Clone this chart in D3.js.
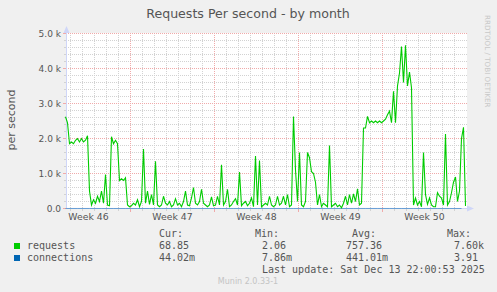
<!DOCTYPE html>
<html>
<head>
<meta charset="utf-8">
<script src="https://cdn.jsdelivr.net/npm/d3@7"></script>
<style>
  body { margin: 0; background: #f0f0f0; }
  svg { display: block; }
</style>
</head>
<body>
<div id="chart"></div>
<script>
// requests per second, one value every 4 hours from Nov 10 14:00 to Dec 13 22:00
var requests = [
  2620, 2450, 1850, 1900, 1850, 1950, 2000, 1900, 2000, 1900,
  1950, 2080, 500, 100, 250, 150, 350, 200, 500, 150,
  970, 100, 80, 2050, 1850, 1950, 1850, 800, 850, 800,
  880, 100, 50, 80, 150, 100, 250, 50, 200, 1700,
  150, 500, 120, 400, 100, 1350, 100, 50, 100, 350,
  150, 100, 200, 50, 100, 280, 100, 150, 50, 200,
  500, 100, 80, 300, 600, 150, 100, 200, 550, 150,
  100, 50, 100, 330, 80, 100, 350, 100, 1250, 100,
  200, 550, 50, 100, 200, 280, 100, 1040, 80, 150,
  200, 80, 150, 300, 50, 1500, 100, 1370, 50, 100,
  150, 100, 350, 100, 50, 100, 350, 100, 150, 350,
  100, 400, 50, 100, 2630, 1100, 200, 1600, 100, 50,
  200, 1600, 1450, 1050, 1000, 750, 100, 400, 50, 150,
  100, 50, 1800, 50, 100, 150, 50, 100, 20, 150,
  350, 100, 400, 150, 420, 200, 560, 100, 150, 2300,
  2300, 2630, 2450, 2500, 2450, 2500, 2450, 2500, 2450, 2500,
  2550, 2680, 2780, 2450, 3350, 2450, 3500, 3870, 4630, 3600,
  4660, 3500, 3900, 3450, 100, 300, 100, 200, 50, 1600,
  400, 120, 300, 100, 50, 50, 450, 350, 300, 100,
  2130, 100, 200, 450, 750, 900, 200, 500, 2000, 2320,
  70
];
// connections per second, one value per day (all close to zero)
var connections = [
  0.52, 0.61, 0.48, 0.35, 0.22, 0.40, 0.31, 0.28, 0.45, 0.19,
  0.33, 0.27, 0.41, 0.30, 0.25, 0.38, 0.29, 0.36, 0.24, 0.47,
  0.58, 0.66, 0.71, 0.62, 0.55, 0.93, 1.12, 0.84, 0.30, 0.21,
  0.35, 0.40, 0.26, 0.04
];
var yTicks = [0, 1000, 2000, 3000, 4000, 5000];
var yTickLabels = ["0.0", "1.0 k", "2.0 k", "3.0 k", "4.0 k", "5.0 k"];
var weekLabels = ["Week 46", "Week 47", "Week 48", "Week 49", "Week 50"];
var legendNames = ["requests", "connections"];
var legendColors = ["#00cc00", "#0066b3"];
var legendHeads = ["Cur:", "Min:", "Avg:", "Max:"];
var legendValues = [
  ["68.85", "2.06", "757.36", "7.60k"],
  ["44.02m", "7.86m", "441.01m", "3.91"]
];

var width = 497, height = 292;
var t0 = new Date(Date.UTC(2025, 10, 10, 14, 0));
var t1 = new Date(Date.UTC(2025, 11, 13, 22, 0));
var stepReq = 4 * 3600 * 1000;
var stepConn = 24 * 3600 * 1000;

var x = d3.scaleUtc().domain([t0, t1]).range([65.5, 465.5]);
var y = d3.scaleLinear().domain([0, 5000]).range([208.5, 33.5]);

var minorCol = "#d2d2d2";
var majorCol = "#f0aaaa";

var svg = d3.select("#chart").append("svg")
  .attr("width", width)
  .attr("height", height);

svg.append("rect").attr("width", width).attr("height", height).attr("fill", "#f0f0f0");
// canvas
svg.append("rect")
  .attr("x", 66).attr("y", 33)
  .attr("width", 401).attr("height", 176)
  .attr("fill", "#ffffff");

var grid = svg.append("g");
// horizontal minor lines every 200
grid.selectAll(".hmin")
  .data(d3.range(200, 5000, 200).filter(function (d) { return d % 1000 !== 0; }))
  .enter().append("line")
  .attr("x1", 66).attr("x2", 467)
  .attr("y1", y).attr("y2", y)
  .attr("stroke", minorCol).attr("stroke-dasharray", "1,1");
// vertical minor lines every day
var days = d3.utcDay.range(t0, t1);
grid.selectAll(".vmin")
  .data(days)
  .enter().append("line")
  .attr("x1", x).attr("x2", x)
  .attr("y1", 33).attr("y2", 208)
  .attr("stroke", minorCol).attr("stroke-dasharray", "1,1");
// horizontal major lines
grid.selectAll(".hmaj")
  .data(yTicks.slice(1))
  .enter().append("line")
  .attr("x1", 66).attr("x2", 467)
  .attr("y1", y).attr("y2", y)
  .attr("stroke", majorCol).attr("stroke-dasharray", "1,1");
// vertical major lines every week (Sunday)
var weeks = d3.utcSunday.range(t0, t1);
grid.selectAll(".vmaj")
  .data(weeks)
  .enter().append("line")
  .attr("x1", x).attr("x2", x)
  .attr("y1", 33).attr("y2", 208)
  .attr("stroke", majorCol).attr("stroke-dasharray", "1,1");

// tick marks
grid.selectAll(".ytk")
  .data(d3.range(0, 5001, 200))
  .enter().append("line")
  .attr("x1", function (d) { return d % 1000 === 0 ? 63 : 64; }).attr("x2", 66)
  .attr("y1", y).attr("y2", y)
  .attr("stroke", function (d) { return d % 1000 === 0 ? majorCol : minorCol; });
grid.selectAll(".xtk")
  .data(days)
  .enter().append("line")
  .attr("x1", x).attr("x2", x)
  .attr("y1", 209).attr("y2", function (d) { return d.getUTCDay() === 0 ? 212 : 211; })
  .attr("stroke", function (d) { return d.getUTCDay() === 0 ? majorCol : minorCol; });

// axes
svg.append("line")
  .attr("x1", 66.5).attr("x2", 66.5).attr("y1", 30).attr("y2", 209)
  .attr("stroke", "#cfd6f8");
svg.append("path")
  .attr("d", "M63.5,33 L69.5,33 L66.5,26 Z")
  .attr("fill", "#cfd6f8");
svg.append("line")
  .attr("x1", 66).attr("x2", 470).attr("y1", 208.5).attr("y2", 208.5)
  .attr("stroke", "#cfd6f8");
svg.append("path")
  .attr("d", "M467,205.5 L467,211.5 L474,208.5 Z")
  .attr("fill", "#cfd6f8");

// series
var lineReq = d3.line()
  .x(function (d, i) { return x(new Date(t0.getTime() + i * stepReq)); })
  .y(function (d) { return y(d); });
var lineConn = d3.line()
  .x(function (d, i) { return x(new Date(Math.min(t0.getTime() + i * stepConn, t1.getTime()))); })
  .y(function (d) { return y(d); });

svg.append("path")
  .datum(connections)
  .attr("d", lineConn)
  .attr("fill", "none")
  .attr("stroke", "#0066b3")
  .attr("stroke-opacity", 0.5)
  .attr("stroke-width", 1);
svg.append("path")
  .datum(requests)
  .attr("d", lineReq)
  .attr("fill", "none")
  .attr("stroke", "#00cc00")
  .attr("stroke-width", 1.1);

var font = "DejaVu Sans";
var txt = "#555555";

// y labels
svg.selectAll(".ylab")
  .data(yTicks)
  .enter().append("text")
  .attr("x", 61)
  .attr("y", function (d) { return y(d) + 3.5; })
  .attr("text-anchor", "end")
  .attr("font-family", font).attr("font-size", "9px")
  .attr("fill", txt)
  .text(function (d, i) { return yTickLabels[i]; });

// week labels centred in the middle of each week
svg.selectAll(".xlab")
  .data(weekLabels)
  .enter().append("text")
  .attr("x", function (d, i) {
    var mid = new Date(Date.UTC(2025, 10, 9) + (i * 7 + 3.5) * 86400000);
    return x(mid);
  })
  .attr("y", 219.5)
  .attr("text-anchor", "middle")
  .attr("font-family", font).attr("font-size", "9.3px")
  .attr("fill", txt)
  .text(function (d) { return d; });

// title
svg.append("text")
  .attr("x", 248).attr("y", 18)
  .attr("text-anchor", "middle")
  .attr("font-family", font).attr("font-size", "12.6px")
  .attr("fill", txt)
  .text("Requests Per second - by month");

// vertical axis title
svg.append("text")
  .attr("transform", "translate(14.5,120) rotate(-90)")
  .attr("text-anchor", "middle")
  .attr("font-family", font).attr("font-size", "11px")
  .attr("fill", txt)
  .text("per second");

// watermark
svg.append("text")
  .attr("transform", "translate(485,15) rotate(90)")
  .attr("font-family", font).attr("font-size", "7.2px")
  .attr("fill", "#c8c8c8")
  .text("RRDTOOL / TOBI OETIKER");

// legend
var mono = "DejaVu Sans Mono";
var headX = [159, 255, 352, 447];
var valX = [[159, 262, 346, 454], [159, 262, 346, 454]];
svg.selectAll(".lhead")
  .data(legendHeads)
  .enter().append("text")
  .attr("x", function (d, i) { return headX[i]; })
  .attr("y", 237)
  .attr("font-family", mono).attr("font-size", "10px")
  .attr("fill", txt)
  .text(function (d) { return d; });

var rows = svg.selectAll(".lrow")
  .data(legendNames)
  .enter().append("g")
  .attr("transform", function (d, i) { return "translate(0," + (249 + i * 12) + ")"; });
rows.append("rect")
  .attr("x", 14).attr("y", -6)
  .attr("width", 6).attr("height", 6)
  .attr("fill", function (d, i) { return legendColors[i]; });
rows.append("text")
  .attr("x", 27).attr("y", 0)
  .attr("font-family", mono).attr("font-size", "10px")
  .attr("fill", txt)
  .text(function (d) { return d; });
rows.each(function (d, r) {
  d3.select(this).selectAll(".v")
    .data(legendValues[r])
    .enter().append("text")
    .attr("x", function (v, j) { return valX[r][j]; })
    .attr("y", 0)
    .attr("font-family", mono).attr("font-size", "10px")
    .attr("fill", txt)
    .text(function (v) { return v; });
});

svg.append("text")
  .attr("x", 262).attr("y", 273)
  .attr("font-family", mono).attr("font-size", "10px")
  .attr("fill", txt)
  .text("Last update: Sat Dec 13 22:00:53 2025");

svg.append("text")
  .attr("x", 248).attr("y", 284)
  .attr("text-anchor", "middle")
  .attr("font-family", font).attr("font-size", "8px")
  .attr("fill", "#c4c4c4")
  .text("Munin 2.0.33-1");
</script>
</body>
</html>
